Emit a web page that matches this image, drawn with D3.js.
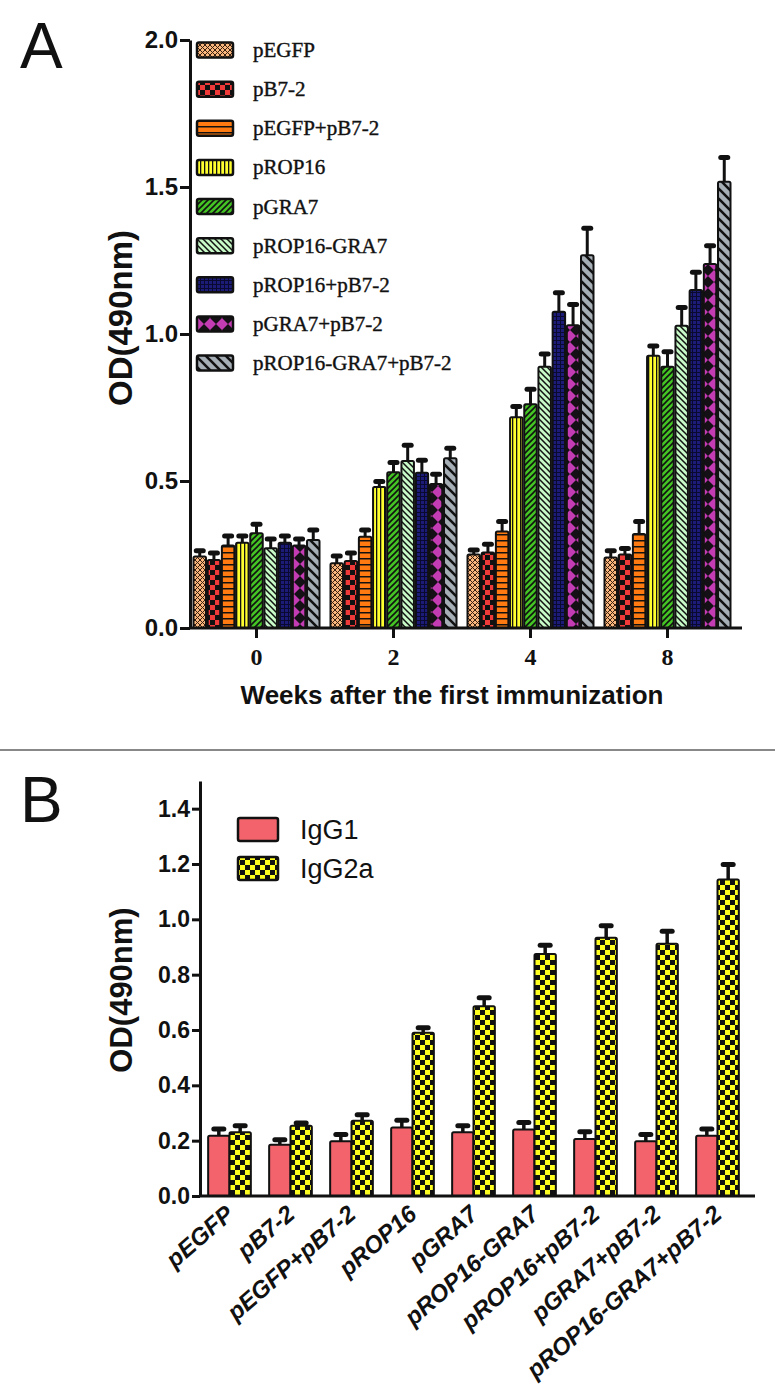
<!DOCTYPE html>
<html><head><meta charset="utf-8">
<script src="https://cdn.jsdelivr.net/npm/d3@7"></script>
<style>body{margin:0;background:#fff}svg{display:block}</style>
</head><body>
<script>
// ---------- DATA ----------
const weeks = ["0", "2", "4", "8"];
const groups = ["pEGFP","pB7-2","pEGFP+pB7-2","pROP16","pGRA7","pROP16-GRA7","pROP16+pB7-2","pGRA7+pB7-2","pROP16-GRA7+pB7-2"];
// Panel A: mean OD per group, one value per week (0,2,4,8)
const a_pEGFP        = [0.243, 0.220, 0.250, 0.240];
const a_pB72         = [0.231, 0.228, 0.257, 0.250];
const a_pEGFP_pB72   = [0.281, 0.310, 0.328, 0.320];
const a_pROP16       = [0.290, 0.480, 0.717, 0.926];
const a_pGRA7        = [0.322, 0.530, 0.761, 0.889];
const a_pROP16_GRA7  = [0.271, 0.568, 0.889, 1.028];
const a_pROP16_pB72  = [0.290, 0.528, 1.076, 1.150];
const a_pGRA7_pB72   = [0.281, 0.490, 1.030, 1.238];
const a_all          = [0.299, 0.577, 1.268, 1.518];
// Panel A: error (SD) per group and week
const e_pEGFP        = [0.020, 0.025, 0.015, 0.023];
const e_pB72         = [0.024, 0.027, 0.028, 0.020];
const e_pEGFP_pB72   = [0.032, 0.023, 0.034, 0.042];
const e_pROP16       = [0.023, 0.018, 0.036, 0.033];
const e_pGRA7        = [0.031, 0.033, 0.051, 0.051];
const e_pROP16_GRA7  = [0.032, 0.054, 0.043, 0.062];
const e_pROP16_pB72  = [0.023, 0.043, 0.064, 0.060];
const e_pGRA7_pB72   = [0.022, 0.033, 0.070, 0.062];
const e_all          = [0.034, 0.034, 0.092, 0.082];
const yTicksA = [0, 0.5, 1.0, 1.5, 2.0];

// Panel B
const subclasses = ["IgG1", "IgG2a"];
const igg1     = [0.218, 0.185, 0.198, 0.248, 0.230, 0.240, 0.206, 0.198, 0.218];
const igg1Err  = [0.024, 0.018, 0.024, 0.026, 0.024, 0.026, 0.026, 0.024, 0.024];
const igg2a    = [0.230, 0.254, 0.272, 0.590, 0.686, 0.875, 0.933, 0.912, 1.144];
const igg2aErr = [0.024, 0.010, 0.022, 0.018, 0.031, 0.031, 0.044, 0.045, 0.054];
const yTicksB = [0, 0.2, 0.4, 0.6, 0.8, 1.0, 1.2, 1.4];

const seriesA = [
  {name: groups[0], v: a_pEGFP, e: e_pEGFP},
  {name: groups[1], v: a_pB72, e: e_pB72},
  {name: groups[2], v: a_pEGFP_pB72, e: e_pEGFP_pB72},
  {name: groups[3], v: a_pROP16, e: e_pROP16},
  {name: groups[4], v: a_pGRA7, e: e_pGRA7},
  {name: groups[5], v: a_pROP16_GRA7, e: e_pROP16_GRA7},
  {name: groups[6], v: a_pROP16_pB72, e: e_pROP16_pB72},
  {name: groups[7], v: a_pGRA7_pB72, e: e_pGRA7_pB72},
  {name: groups[8], v: a_all, e: e_all}
];

// ---------- SVG ----------
const W = 775, H = 1400;
const svg = d3.select("body").append("svg").attr("width", W).attr("height", H)
  .style("font-family", "'Liberation Sans', Arial, sans-serif");
const defs = svg.append("defs");

function pat(id, w, h, bg, draw) {
  const p = defs.append("pattern").attr("id", id).attr("patternUnits", "userSpaceOnUse")
    .attr("width", w).attr("height", h);
  p.append("rect").attr("width", w).attr("height", h).attr("fill", bg);
  draw(p);
}
// pattern styles for panel A
pat("pA0", 5, 5, "#f8b67c", p => {
  p.append("path").attr("d", "M0,0L5,5M5,0L0,5").attr("stroke", "#3a2010").attr("stroke-width", 1);
});
pat("pA1", 10, 10, "#f03a3a", p => {
  p.append("rect").attr("x", 0).attr("y", 0).attr("width", 5).attr("height", 5).attr("fill", "#111");
  p.append("rect").attr("x", 5).attr("y", 5).attr("width", 5).attr("height", 5).attr("fill", "#111");
});
pat("pA2", 6, 6, "#ff7a10", p => {
  p.append("rect").attr("x", 0).attr("y", 0).attr("width", 6).attr("height", 1.5).attr("fill", "#111");
});
pat("pA3", 4, 4, "#ffff30", p => {
  p.append("rect").attr("x", 0).attr("y", 0).attr("width", 1.3).attr("height", 4).attr("fill", "#111");
});
pat("pA4", 6, 6, "#44c424", p => {
  p.append("path").attr("d", "M-1,7L7,-1M-4,4L4,-4M2,10L10,2").attr("stroke", "#111").attr("stroke-width", 1.6);
});
pat("pA5", 6, 6, "#c8fac8", p => {
  p.append("path").attr("d", "M-1,-1L7,7M-4,2L2,8M4,-2L8,2").attr("stroke", "#111").attr("stroke-width", 1.5);
});
pat("pA6", 4, 4, "#1c1c78", p => {
  p.append("rect").attr("x", 0).attr("y", 0).attr("width", 4).attr("height", 1).attr("fill", "#0a0a30");
  p.append("rect").attr("x", 0).attr("y", 0).attr("width", 1).attr("height", 4).attr("fill", "#0a0a30");
});
pat("pA7", 12, 12, "#c43cb4", p => {
  p.append("path").attr("d", "M0,0L6,6L0,12Z M12,0L6,6L12,12Z").attr("fill", "#151015");
});
pat("pA8", 10, 10, "#a6aeb6", p => {
  p.append("path").attr("d", "M-2,-2L12,12M-7,3L3,13M7,-3L13,3").attr("stroke", "#111").attr("stroke-width", 2.6);
});
pat("pB1", 10, 10, "#ffff20", p => {
  p.append("rect").attr("x", 0).attr("y", 0).attr("width", 5).attr("height", 5).attr("fill", "#111");
  p.append("rect").attr("x", 5).attr("y", 5).attr("width", 5).attr("height", 5).attr("fill", "#111");
});

// ---------- PANEL A ----------
const yA = d3.scaleLinear().domain([0, 2.0]).range([628, 40]);
const xA = d3.scaleBand().domain(weeks).range([188, 736]).padding(0);
const xInA = d3.scaleBand().domain(groups).range([0, 126]).paddingInner(0.12);
const offA = (xA.bandwidth() - 126) / 2;

const gA = svg.append("g");
seriesA.forEach((s, i) => {
  const g = gA.append("g");
  weeks.forEach((w, k) => {
    const x0 = xA(w) + offA + xInA(s.name);
    const bw = xInA.bandwidth();
    const cx = x0 + bw / 2;
    g.append("line").attr("x1", cx).attr("x2", cx).attr("y1", yA(s.v[k]) + 2).attr("y2", yA(s.v[k] + s.e[k]))
      .attr("stroke", "#111").attr("stroke-width", 3);
    g.append("line").attr("x1", cx - 3.5).attr("x2", cx + 3.5).attr("y1", yA(s.v[k] + s.e[k])).attr("y2", yA(s.v[k] + s.e[k]))
      .attr("stroke", "#111").attr("stroke-width", 5).attr("stroke-linecap", "round");
    g.append("rect").attr("x", x0).attr("y", yA(s.v[k])).attr("width", bw).attr("height", yA(0) - yA(s.v[k]))
      .attr("fill", `url(#pA${i})`).attr("stroke", "#111").attr("stroke-width", 2).attr("rx", 1.5);
  });
});

// axes A
const axA = svg.append("g").attr("transform", "translate(190,0)")
  .call(d3.axisLeft(yA).tickValues(yTicksA).tickFormat(d3.format(".1f")).tickSize(10).tickSizeOuter(0));
axA.select(".domain").attr("stroke", "#111").attr("stroke-width", 3);
axA.selectAll(".tick line").attr("stroke", "#111").attr("stroke-width", 3);
axA.selectAll(".tick text").attr("font-size", 24).attr("font-weight", "bold").attr("fill", "#111")
  .attr("x", -12).attr("font-family", "'Liberation Sans', Arial, sans-serif");

const axAx = svg.append("g").attr("transform", "translate(0,628)")
  .call(d3.axisBottom(xA).tickSize(10).tickSizeOuter(0));
axAx.select(".domain").remove();
svg.append("line").attr("x1", 189).attr("x2", 742).attr("y1", 628).attr("y2", 628).attr("stroke", "#111").attr("stroke-width", 3);
axAx.selectAll(".tick line").attr("stroke", "#111").attr("stroke-width", 3);
axAx.selectAll(".tick text").attr("font-size", 24).attr("font-weight", "bold").attr("fill", "#111")
  .attr("font-family", "'Liberation Serif', 'Times New Roman', serif").attr("y", 20);

svg.append("text").attr("x", 452).attr("y", 704).attr("text-anchor", "middle")
  .attr("font-size", 26).attr("font-weight", "bold").attr("fill", "#111").text("Weeks after the first immunization");
svg.append("text").attr("transform", "translate(132,318) rotate(-90)").attr("text-anchor", "middle")
  .attr("font-size", 33).attr("font-weight", "bold").attr("fill", "#111").text("OD(490nm)");
svg.append("text").attr("x", 20).attr("y", 68).attr("font-size", 64).attr("fill", "#111").text("A");

// legend A
const legY = d3.scalePoint().domain(groups).range([50, 363]);
const legA = svg.append("g");
groups.forEach((gname, i) => {
  legA.append("rect").attr("x", 197).attr("y", legY(gname) - 7.5).attr("width", 36).attr("height", 15)
    .attr("rx", 2).attr("fill", `url(#pA${i})`).attr("stroke", "#111").attr("stroke-width", 2.5);
  legA.append("text").attr("x", 253).attr("y", legY(gname) + 7).attr("font-size", 21)
    .attr("font-family", "'Liberation Serif', 'Times New Roman', serif").attr("fill", "#111")
    .attr("stroke", "#111").attr("stroke-width", 0.4).text(gname);
});

// separator
svg.append("line").attr("x1", 0).attr("x2", 775).attr("y1", 750).attr("y2", 750).attr("stroke", "#888").attr("stroke-width", 2);

// ---------- PANEL B ----------
const yB = d3.scaleLinear().domain([0, 1.5]).range([1196, 781]);
const xB = d3.scaleBand().domain(groups).range([199, 748]).paddingInner(0.3).paddingOuter(0.15);
const xInB = d3.scaleBand().domain(subclasses).range([0, xB.bandwidth()]).padding(0);
const seriesB = [
  {name: "IgG1", v: igg1, e: igg1Err, fill: "#f2636b"},
  {name: "IgG2a", v: igg2a, e: igg2aErr, fill: "url(#pB1)"}
];
const gB = svg.append("g");
seriesB.forEach(s => {
  groups.forEach((gname, k) => {
    const x0 = xB(gname) + xInB(s.name);
    const bw = xInB.bandwidth();
    const cx = x0 + bw / 2;
    gB.append("line").attr("x1", cx).attr("x2", cx).attr("y1", yB(s.v[k]) + 2).attr("y2", yB(s.v[k] + s.e[k]))
      .attr("stroke", "#111").attr("stroke-width", 3.5);
    gB.append("line").attr("x1", cx - 5).attr("x2", cx + 5).attr("y1", yB(s.v[k] + s.e[k])).attr("y2", yB(s.v[k] + s.e[k]))
      .attr("stroke", "#111").attr("stroke-width", 5).attr("stroke-linecap", "round");
    gB.append("rect").attr("x", x0).attr("y", yB(s.v[k])).attr("width", bw).attr("height", yB(0) - yB(s.v[k]))
      .attr("fill", s.fill).attr("stroke", "#111").attr("stroke-width", 2).attr("rx", 1.5);
  });
});

const axB = svg.append("g").attr("transform", "translate(200,0)")
  .call(d3.axisLeft(yB).tickValues(yTicksB).tickFormat(d3.format(".1f")).tickSize(8).tickSizeOuter(0));
axB.select(".domain").attr("stroke", "#111").attr("stroke-width", 3);
axB.selectAll(".tick line").attr("stroke", "#111").attr("stroke-width", 3);
axB.selectAll(".tick text").attr("font-size", 23).attr("font-weight", "bold").attr("fill", "#111")
  .attr("x", -10).attr("font-family", "'Liberation Sans', Arial, sans-serif");
svg.append("line").attr("x1", 199).attr("x2", 755).attr("y1", 1196).attr("y2", 1196).attr("stroke", "#111").attr("stroke-width", 3);

// x labels B
const xlB = svg.append("g");
groups.forEach(gname => {
  xlB.append("text")
    .attr("transform", `translate(${xB(gname) + xB.bandwidth() / 2 + 1},1211) rotate(-41)`)
    .attr("text-anchor", "end").attr("dy", "0.3em")
    .attr("font-size", 24).attr("font-weight", "bold").attr("font-style", "italic").attr("fill", "#111")
    .text(gname);
});

svg.append("text").attr("transform", "translate(132,990) rotate(-90)").attr("text-anchor", "middle")
  .attr("font-size", 31).attr("font-weight", "bold").attr("fill", "#111").text("OD(490nm)");
svg.append("text").attr("x", 20).attr("y", 822).attr("font-size", 64).attr("fill", "#111").text("B");

// legend B
const legBY = d3.scalePoint().domain(subclasses).range([829, 868]);
seriesB.forEach(s => {
  svg.append("rect").attr("x", 238).attr("y", legBY(s.name) - 11).attr("width", 40).attr("height", 23)
    .attr("rx", 2).attr("fill", s.fill).attr("stroke", "#111").attr("stroke-width", 2.5);
  svg.append("text").attr("x", 300).attr("y", legBY(s.name) + 10).attr("font-size", 27)
    .attr("fill", "#111").text(s.name);
});
</script>
</body></html>
